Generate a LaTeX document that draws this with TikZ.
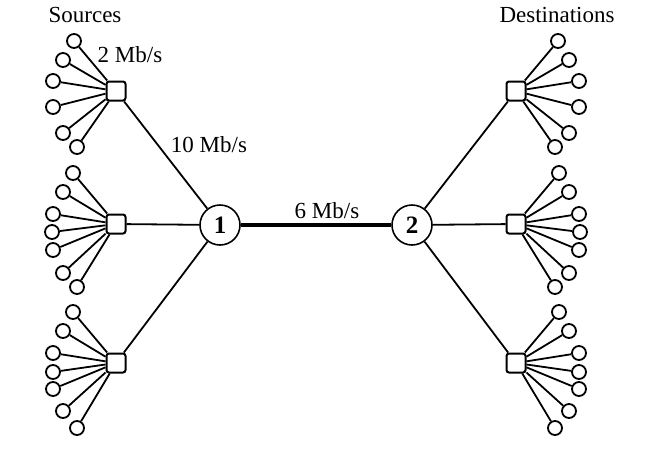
\documentclass[tikz,border=0pt]{standalone}
\usepackage{fontspec}
\setmainfont{Liberation Serif}
\begin{document}
\begin{tikzpicture}[x=1pt,y=-1pt,
  leaf/.style={circle,draw,line width=1.8pt,minimum size=14pt,inner sep=0pt},
  sw/.style={rectangle,rounded corners=2.5pt,draw,line width=2pt,minimum size=19pt,inner sep=0pt},
  router/.style={circle,draw,line width=1.6pt,minimum size=40pt,inner sep=0pt,font=\fontsize{25}{28}\selectfont\bfseries},
  link/.style={line width=1.8pt},
  trunk/.style={line width=4.5pt},
  lbl/.style={font=\fontsize{23}{27}\selectfont,inner sep=0pt}]
\useasboundingbox (0,0) rectangle (664,451);
% switches
\node[sw] (LSa) at (116,91) {};
\node[sw] (LSb) at (116,224) {};
\node[sw] (LSc) at (116,363) {};
\node[sw] (RSa) at (516,91) {};
\node[sw] (RSb) at (516,224) {};
\node[sw] (RSc) at (516,363) {};
% routers
\node[router] (n1) at (220,225) {1};
\node[router] (n2) at (412,225) {2};
% leaves
\foreach \s/\lst in {a/{74/41,63/60,53/81,53/107,63/133,77/147},
                     b/{73/173,63/192,53/214,52/232,53/250,63/273,77/287},
                     c/{73/312,63/331,53/353,53/372,53/389,63/411,77/428}}{
  \foreach \x/\y [count=\i] in \lst {
    \node[leaf] (L\s\i) at (\x,\y) {};
    \node[leaf] (R\s\i) at (632-\x,\y) {};
    \draw[link] (L\s\i) -- (LS\s);
    \draw[link] (R\s\i) -- (RS\s);
  }
}
% links to routers
\foreach \s in {a,b,c}{
  \draw[link] (LS\s) -- (n1);
  \draw[link] (RS\s) -- (n2);
}
\draw[trunk] (n1) -- (n2);
% labels
\node[lbl] (tsrc) at (85,15) {Sources};
\node[lbl] (tdst) at (557,15) {Destinations};
\node[lbl] (t2) at (130,55) {2 Mb/s};
\node[lbl] (t10) at (209,145) {10 Mb/s};
\node[lbl] (t6) at (327,211) {6 Mb/s};
\end{tikzpicture}
\end{document}
